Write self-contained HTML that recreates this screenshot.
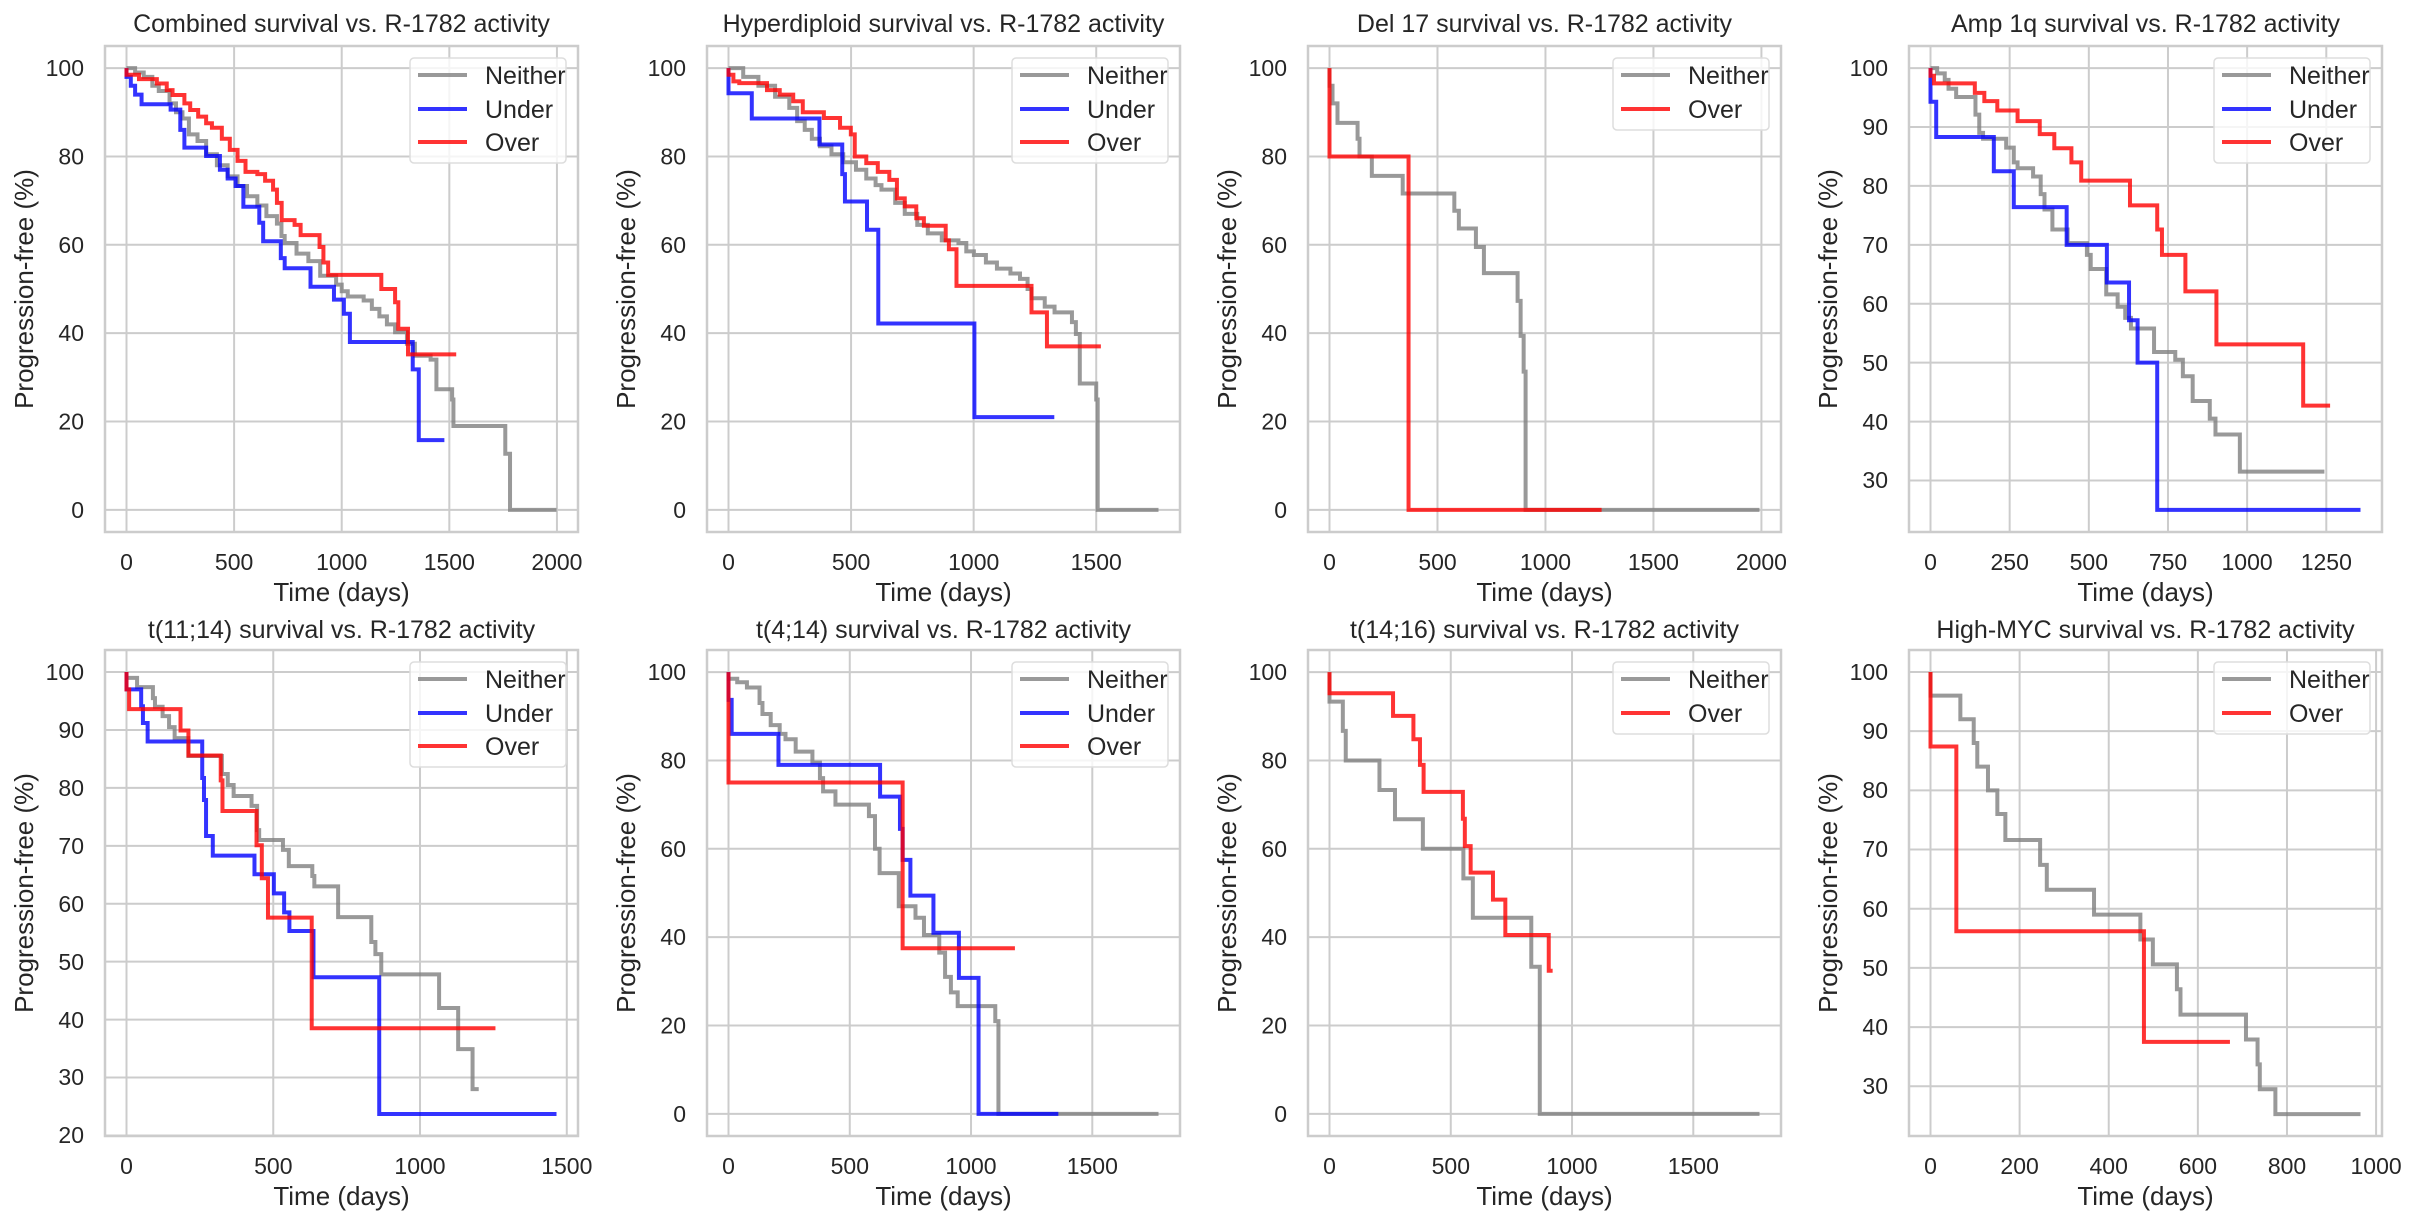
<!DOCTYPE html>
<html><head><meta charset="utf-8"><style>
body{margin:0;background:#fff}
svg{display:block;font-family:"Liberation Sans",Arial,sans-serif;fill:#262626}
.d path{fill:none;vector-effect:non-scaling-stroke}
.g{stroke:#cccccc;stroke-width:2}
.n{stroke:#808080;stroke-opacity:.8;stroke-width:4}
.u{stroke:#0000ff;stroke-opacity:.8;stroke-width:4}
.o{stroke:#ff0000;stroke-opacity:.8;stroke-width:4}
.sp{fill:none;stroke:#cccccc;stroke-width:2.5}
.t{font-size:25px;text-anchor:middle}
.al{font-size:26px;text-anchor:middle}
.xt{font-size:23px;text-anchor:middle}
.yt{font-size:23px;text-anchor:end}
.lg{fill:#fff;fill-opacity:.8;stroke:#dddddd;stroke-width:1.5}
.lt{font-size:25px}
.ll{stroke-width:4;stroke-opacity:.8}
</style></head><body>
<svg width="2418" height="1218" viewBox="0 0 2418 1218" xmlns="http://www.w3.org/2000/svg">

<!-- P1 -->
<g class="d" transform="translate(126.5,509.9) scale(0.21522,-4.4182)">
<path class="g" d="M0 -5V105M500 -5V105M1000 -5V105M1500 -5V105M2000 -5V105M-99.9 0H2097.9M-99.9 20H2097.9M-99.9 40H2097.9M-99.9 60H2097.9M-99.9 80H2097.9M-99.9 100H2097.9"/>
<path class="n" d="M0 100H40V99H80V98H120V96H150V94.8H200V92H230V90H260V88.6H290V85H330V83.5H370V80.5H420V78H470V75.5H516V73.3H560V71H608V68.9H650V66.5H699V64.8H720V62H735V60.4H790V58H845V56.3H900V53H974V51H1000V49.5H1028V48.3H1102V47.4H1140V45.5H1175V43.8H1210V42H1248V40.2H1303V37.6H1340V34.9H1413V34H1440V27.3H1513V25H1519V19H1760V12.7H1782V0H1998"/>
<path class="u" d="M0 100V98H20V96H40V94H70V91.8H205V90.6H250V86H269V82H370V80.1H434V77H470V75H507V73.3H543V68.6H617V65H635V60.8H717V57H735V54.7H855V50.5H964V47.6H1010V44.4H1038V38H1330V31.8H1358V15.8H1477"/>
<path class="o" d="M0 100V98.5H58V97.5H141V96.5H187V95H214V93.9H269V92H296V90.5H333V89H370V87.5H397V86.5H443V84H480V81.5H516V79H553V76.5H608V76H644V74.5H681V72.5H699V69.5H721V65.6H781V64.5H809V62.2H897V59.5H915V56H937V53.2H1184V50H1248V47H1263V41H1308V35.2H1532"/>
</g>
<rect class="sp" x="105" y="46" width="473" height="486"/>
<text class="t" x="341.5" y="32">Combined survival vs. R-1782 activity</text>
<g class="xt"><text x="126.5" y="570">0</text><text x="234.1" y="570">500</text><text x="341.7" y="570">1000</text><text x="449.3" y="570">1500</text><text x="556.9" y="570">2000</text></g>
<g class="yt"><text x="84" y="76">100</text><text x="84" y="164.5">80</text><text x="84" y="252.8">60</text><text x="84" y="341.2">40</text><text x="84" y="429.5">20</text><text x="84" y="518">0</text></g>
<text class="al" x="341.5" y="601">Time (days)</text>
<text class="al" transform="translate(33,289) rotate(-90)">Progression-free (%)</text>
<rect class="lg" x="410" y="58" width="156" height="105" rx="4"/>
<line class="ll" x1="418" y1="75" x2="467" y2="75" stroke="#808080"/><text class="lt" x="485" y="84">Neither</text>
<line class="ll" x1="418" y1="109" x2="467" y2="109" stroke="#0000ff"/><text class="lt" x="485" y="118">Under</text>
<line class="ll" x1="418" y1="142" x2="467" y2="142" stroke="#ff0000"/><text class="lt" x="485" y="151">Over</text>

<!-- P2 -->
<g class="d" transform="translate(728.5,509.9) scale(0.24515,-4.4182)">
<path class="g" d="M0 -5V105M500 -5V105M1000 -5V105M1500 -5V105M-87.7 0H1841.7M-87.7 20H1841.7M-87.7 40H1841.7M-87.7 60H1841.7M-87.7 80H1841.7M-87.7 100H1841.7"/>
<path class="n" d="M0 100H60V98H122V96H190V93.5H248V91H280V88H311V86H340V84H373V82.3H420V80.5H468V78.7H520V77H562V75H600V73.5H624V72.5H680V69.5H719V67H770V64.5H813V62.6H870V61H938V60.4H970V58.5H1001V57.7H1050V56H1095V54.6H1150V53.5H1189V52.3H1220V50H1236V47.9H1290V46H1330V44.7H1401V42.5H1417V39.8H1433V28.6H1500V25H1506V0H1754"/>
<path class="u" d="M0 100V94.3H95V88.6H371V82.7H464V76H475V69.8H565V63.4H611V42.2H1003V21H1329"/>
<path class="o" d="M0 100V98.5H20V97H44V96.6H157V95H209V94H264V92.5H303V90H389V88.7H455V86.5H499V85H515V80H562V78.5H609V76.5H656V74.7H687V70.5H719V68.7H766V66H797V64.3H886V61H899V59H930V50.7H1236V44.7H1299V37H1519"/>
</g>
<rect class="sp" x="707" y="46" width="473" height="486"/>
<text class="t" x="943.5" y="32">Hyperdiploid survival vs. R-1782 activity</text>
<g class="xt"><text x="728.5" y="570">0</text><text x="851.1" y="570">500</text><text x="973.7" y="570">1000</text><text x="1096.2" y="570">1500</text></g>
<g class="yt"><text x="686" y="76">100</text><text x="686" y="164.5">80</text><text x="686" y="252.8">60</text><text x="686" y="341.2">40</text><text x="686" y="429.5">20</text><text x="686" y="518">0</text></g>
<text class="al" x="943.5" y="601">Time (days)</text>
<text class="al" transform="translate(635,289) rotate(-90)">Progression-free (%)</text>
<rect class="lg" x="1012" y="58" width="156" height="105" rx="4"/>
<line class="ll" x1="1020" y1="75" x2="1069" y2="75" stroke="#808080"/><text class="lt" x="1087" y="84">Neither</text>
<line class="ll" x1="1020" y1="109" x2="1069" y2="109" stroke="#0000ff"/><text class="lt" x="1087" y="118">Under</text>
<line class="ll" x1="1020" y1="142" x2="1069" y2="142" stroke="#ff0000"/><text class="lt" x="1087" y="151">Over</text>

<!-- P3 -->
<g class="d" transform="translate(1329.5,509.9) scale(0.21596,-4.4182)">
<path class="g" d="M0 -5V105M500 -5V105M1000 -5V105M1500 -5V105M2000 -5V105M-99.6 0H2090.6M-99.6 20H2090.6M-99.6 40H2090.6M-99.6 60H2090.6M-99.6 80H2090.6M-99.6 100H2090.6"/>
<path class="n" d="M0 100V96H14V92H37V87.6H130V84H139V80H196V75.6H339V71.6H578V67.7H599V63.7H678V59.5H715V53.6H871V47.3H885V39.4H899V31.3H908V0H1991"/>
<path class="o" d="M0 100V80H366V0H1260"/>
</g>
<rect class="sp" x="1308" y="46" width="473" height="486"/>
<text class="t" x="1544.5" y="32">Del 17 survival vs. R-1782 activity</text>
<g class="xt"><text x="1329.5" y="570">0</text><text x="1437.5" y="570">500</text><text x="1545.5" y="570">1000</text><text x="1653.4" y="570">1500</text><text x="1761.4" y="570">2000</text></g>
<g class="yt"><text x="1287" y="76">100</text><text x="1287" y="164.5">80</text><text x="1287" y="252.8">60</text><text x="1287" y="341.2">40</text><text x="1287" y="429.5">20</text><text x="1287" y="518">0</text></g>
<text class="al" x="1544.5" y="601">Time (days)</text>
<text class="al" transform="translate(1236,289) rotate(-90)">Progression-free (%)</text>
<rect class="lg" x="1613" y="58" width="156" height="72" rx="4"/>
<line class="ll" x1="1621" y1="75" x2="1670" y2="75" stroke="#808080"/><text class="lt" x="1688" y="84">Neither</text>
<line class="ll" x1="1621" y1="109" x2="1670" y2="109" stroke="#ff0000"/><text class="lt" x="1688" y="118">Over</text>

<!-- P4 -->
<g class="d" transform="translate(1930.5,657.2) scale(0.31664,-5.8909)">
<path class="g" d="M0 21.25V103.75M250 21.25V103.75M500 21.25V103.75M750 21.25V103.75M1000 21.25V103.75M1250 21.25V103.75M-67.9 30H1425.9M-67.9 40H1425.9M-67.9 50H1425.9M-67.9 60H1425.9M-67.9 70H1425.9M-67.9 80H1425.9M-67.9 90H1425.9M-67.9 100H1425.9"/>
<path class="n" d="M0 100H21V99.1H45V98H57V96.5H81V95.1H142V92.1H154V89H166V88H239V86.5H263V84H275V83H324V81.6H348V78.6H360V76H385V72.6H433V70.3H494V68.3H506V65.9H555V61.6H591V59.5H615V57.6H633V55.8H706V51.8H773V50.5H797V47.7H828V43.5H882V40.5H900V37.8H977V31.5H1244"/>
<path class="u" d="M0 100V94.3H18V88.3H200V82.5H263V76.4H430V70H557V63.6H627V57.2H654V50H716V25H1358"/>
<path class="o" d="M0 100V98.7H11V97.4H140V95.8H170V94.4H211V92.8H275V91H345V88.8H391V86.4H445V84H476V80.9H630V76.7H716V72.6H731V68.3H805V62.1H903V53.1H1177V42.7H1262"/>
</g>
<rect class="sp" x="1909" y="46" width="473" height="486"/>
<text class="t" x="2145.5" y="32">Amp 1q survival vs. R-1782 activity</text>
<g class="xt"><text x="1930.5" y="570">0</text><text x="2009.7" y="570">250</text><text x="2088.8" y="570">500</text><text x="2168" y="570">750</text><text x="2247.1" y="570">1000</text><text x="2326.3" y="570">1250</text></g>
<g class="yt"><text x="1888" y="76">100</text><text x="1888" y="135">90</text><text x="1888" y="194">80</text><text x="1888" y="253">70</text><text x="1888" y="312">60</text><text x="1888" y="371">50</text><text x="1888" y="430">40</text><text x="1888" y="488">30</text></g>
<text class="al" x="2145.5" y="601">Time (days)</text>
<text class="al" transform="translate(1837,289) rotate(-90)">Progression-free (%)</text>
<rect class="lg" x="2214" y="58" width="156" height="105" rx="4"/>
<line class="ll" x1="2222" y1="75" x2="2271" y2="75" stroke="#808080"/><text class="lt" x="2289" y="84">Neither</text>
<line class="ll" x1="2222" y1="109" x2="2271" y2="109" stroke="#0000ff"/><text class="lt" x="2289" y="118">Under</text>
<line class="ll" x1="2222" y1="142" x2="2271" y2="142" stroke="#ff0000"/><text class="lt" x="2289" y="151">Over</text>

<!-- P5 -->
<g class="d" transform="translate(126.5,1251.3) scale(0.29352,-5.7926)">
<path class="g" d="M0 19.9V103.8M500 19.9V103.8M1000 19.9V103.8M1500 19.9V103.8M-73.25 20H1538.25M-73.25 30H1538.25M-73.25 40H1538.25M-73.25 50H1538.25M-73.25 60H1538.25M-73.25 70H1538.25M-73.25 80H1538.25M-73.25 90H1538.25M-73.25 100H1538.25"/>
<path class="n" d="M0 100V99H36V97.4H90V95.5H97V94H123V92.4H145V90.5H164V88.6H211V85.5H325V82.4H345V80.5H365V78.6H426V76.9H445V72.7H452V71H533V69.3H553V66.5H633V64.8H640V63H721V57.7H834V53.4H848V51.3H868V47.8H1065V42H1130V34.9H1179V28H1200"/>
<path class="u" d="M0 100V97H50V94.1H56V91.2H72V88H258V81.7H264V77.9H271V71.7H294V68.3H436V65.1H502V61.8H537V58.5H555V55.3H637V47.3H861V23.7H1465"/>
<path class="o" d="M0 100V97H9V93.6H184V89.9H211V85.6H321V81.3H327V76H443V70.1H461V64.4H482V57.6H631V38.5H1257"/>
</g>
<rect class="sp" x="105" y="650" width="473" height="486"/>
<text class="t" x="341.5" y="638">t(11;14) survival vs. R-1782 activity</text>
<g class="xt"><text x="126.5" y="1174">0</text><text x="273.3" y="1174">500</text><text x="420" y="1174">1000</text><text x="566.8" y="1174">1500</text></g>
<g class="yt"><text x="84" y="680">100</text><text x="84" y="738">90</text><text x="84" y="796">80</text><text x="84" y="854">70</text><text x="84" y="912">60</text><text x="84" y="970">50</text><text x="84" y="1028">40</text><text x="84" y="1085">30</text><text x="84" y="1143">20</text></g>
<text class="al" x="341.5" y="1205">Time (days)</text>
<text class="al" transform="translate(33,893) rotate(-90)">Progression-free (%)</text>
<rect class="lg" x="410" y="662" width="156" height="105" rx="4"/>
<line class="ll" x1="418" y1="679" x2="467" y2="679" stroke="#808080"/><text class="lt" x="485" y="688">Neither</text>
<line class="ll" x1="418" y1="713" x2="467" y2="713" stroke="#0000ff"/><text class="lt" x="485" y="722">Under</text>
<line class="ll" x1="418" y1="746" x2="467" y2="746" stroke="#ff0000"/><text class="lt" x="485" y="755">Over</text>

<!-- P6 -->
<g class="d" transform="translate(728.5,1113.9) scale(0.24253,-4.4182)">
<path class="g" d="M0 -5V105M500 -5V105M1000 -5V105M1500 -5V105M-88.65 0H1861.65M-88.65 20H1861.65M-88.65 40H1861.65M-88.65 60H1861.65M-88.65 80H1861.65M-88.65 100H1861.65"/>
<path class="n" d="M0 100V98.5H36V97.7H76V96.5H128V93H140V90.5H174V88H211V86H235V84.8H277V82H346V79.5H377V76H390V73H441V70H579V67.4H604V60H623V54.5H702V47H771V44.4H806V40.5H869V36.5H893V31H917V27.5H945V24.4H1100V21H1113V0H1773"/>
<path class="u" d="M0 100V93.7H13V86H206V79H625V71.8H707V64.5H718V57.5H750V49.4H845V41H950V30.8H1031V0H1360"/>
<path class="o" d="M0 100V75H718V37.5H1181"/>
</g>
<rect class="sp" x="707" y="650" width="473" height="486"/>
<text class="t" x="943.5" y="638">t(4;14) survival vs. R-1782 activity</text>
<g class="xt"><text x="728.5" y="1174">0</text><text x="849.8" y="1174">500</text><text x="971" y="1174">1000</text><text x="1092.3" y="1174">1500</text></g>
<g class="yt"><text x="686" y="680">100</text><text x="686" y="768.5">80</text><text x="686" y="856.8">60</text><text x="686" y="945.2">40</text><text x="686" y="1033.5">20</text><text x="686" y="1122">0</text></g>
<text class="al" x="943.5" y="1205">Time (days)</text>
<text class="al" transform="translate(635,893) rotate(-90)">Progression-free (%)</text>
<rect class="lg" x="1012" y="662" width="156" height="105" rx="4"/>
<line class="ll" x1="1020" y1="679" x2="1069" y2="679" stroke="#808080"/><text class="lt" x="1087" y="688">Neither</text>
<line class="ll" x1="1020" y1="713" x2="1069" y2="713" stroke="#0000ff"/><text class="lt" x="1087" y="722">Under</text>
<line class="ll" x1="1020" y1="746" x2="1069" y2="746" stroke="#ff0000"/><text class="lt" x="1087" y="755">Over</text>

<!-- P7 -->
<g class="d" transform="translate(1329.5,1113.9) scale(0.24253,-4.4182)">
<path class="g" d="M0 -5V105M500 -5V105M1000 -5V105M1500 -5V105M-88.65 0H1861.65M-88.65 20H1861.65M-88.65 40H1861.65M-88.65 60H1861.65M-88.65 80H1861.65M-88.65 100H1861.65"/>
<path class="n" d="M0 100V93.3H55V86.7H67V80H206V73.3H270V66.7H385V60H552V53.3H591V44.4H832V33.3H867V0H1773"/>
<path class="o" d="M0 100V95.2H262V90.1H346V84.8H373V79H388V72.9H550V66.8H558V60.6H582V54.6H674V48.5H725V40.5H904V32.4H920"/>
</g>
<rect class="sp" x="1308" y="650" width="473" height="486"/>
<text class="t" x="1544.5" y="638">t(14;16) survival vs. R-1782 activity</text>
<g class="xt"><text x="1329.5" y="1174">0</text><text x="1450.8" y="1174">500</text><text x="1572" y="1174">1000</text><text x="1693.3" y="1174">1500</text></g>
<g class="yt"><text x="1287" y="680">100</text><text x="1287" y="768.5">80</text><text x="1287" y="856.8">60</text><text x="1287" y="945.2">40</text><text x="1287" y="1033.5">20</text><text x="1287" y="1122">0</text></g>
<text class="al" x="1544.5" y="1205">Time (days)</text>
<text class="al" transform="translate(1236,893) rotate(-90)">Progression-free (%)</text>
<rect class="lg" x="1613" y="662" width="156" height="72" rx="4"/>
<line class="ll" x1="1621" y1="679" x2="1670" y2="679" stroke="#808080"/><text class="lt" x="1688" y="688">Neither</text>
<line class="ll" x1="1621" y1="713" x2="1670" y2="713" stroke="#ff0000"/><text class="lt" x="1688" y="722">Over</text>

<!-- P8 -->
<g class="d" transform="translate(1930.5,1263.9) scale(0.44559,-5.9196)">
<path class="g" d="M0 21.6V103.7M200 21.6V103.7M400 21.6V103.7M600 21.6V103.7M800 21.6V103.7M1000 21.6V103.7M-48.25 30H1013.25M-48.25 40H1013.25M-48.25 50H1013.25M-48.25 60H1013.25M-48.25 70H1013.25M-48.25 80H1013.25M-48.25 90H1013.25M-48.25 100H1013.25"/>
<path class="n" d="M0 100V96H67V92H97V88H105V84H129V80H150V76H168V71.6H246V67.4H261V63.2H367V59H471V54.8H499V50.6H553V46.4H561V42.1H708V37.9H734V33.7H739V29.5H774V25.3H965"/>
<path class="o" d="M0 100V87.4H58V56.2H479V37.5H672"/>
</g>
<rect class="sp" x="1909" y="650" width="473" height="486"/>
<text class="t" x="2145.5" y="638">High-MYC survival vs. R-1782 activity</text>
<g class="xt"><text x="1930.5" y="1174">0</text><text x="2019.6" y="1174">200</text><text x="2108.7" y="1174">400</text><text x="2197.9" y="1174">600</text><text x="2287" y="1174">800</text><text x="2376.1" y="1174">1000</text></g>
<g class="yt"><text x="1888" y="680">100</text><text x="1888" y="739">90</text><text x="1888" y="798">80</text><text x="1888" y="857">70</text><text x="1888" y="917">60</text><text x="1888" y="976">50</text><text x="1888" y="1035">40</text><text x="1888" y="1094">30</text></g>
<text class="al" x="2145.5" y="1205">Time (days)</text>
<text class="al" transform="translate(1837,893) rotate(-90)">Progression-free (%)</text>
<rect class="lg" x="2214" y="662" width="156" height="72" rx="4"/>
<line class="ll" x1="2222" y1="679" x2="2271" y2="679" stroke="#808080"/><text class="lt" x="2289" y="688">Neither</text>
<line class="ll" x1="2222" y1="713" x2="2271" y2="713" stroke="#ff0000"/><text class="lt" x="2289" y="722">Over</text>

</svg>
</body></html>
